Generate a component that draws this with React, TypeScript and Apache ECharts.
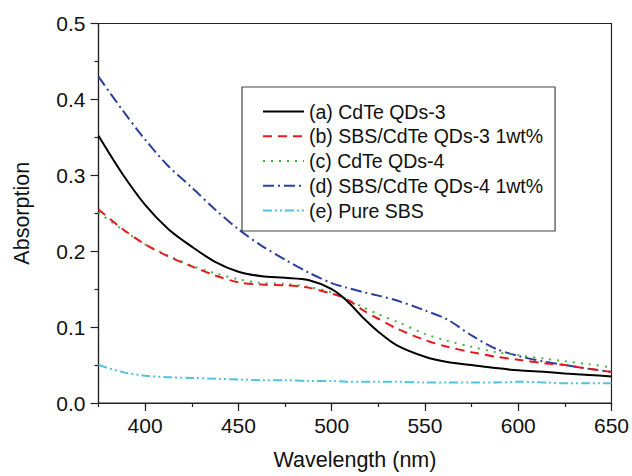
import React, { useEffect, useRef } from "react";
import * as echarts from "echarts";

const wavelengths = [375, 387.5, 400, 412.5, 425, 437.5, 450, 462.5, 475, 487.5, 500, 508, 517, 525, 535, 550, 562, 575, 588, 600, 615, 625, 638, 650];

const seriesA = [0.352, 0.303, 0.261, 0.229, 0.206, 0.186, 0.173, 0.167, 0.165, 0.162, 0.150, 0.135, 0.112, 0.094, 0.076, 0.061, 0.054, 0.050, 0.046, 0.043, 0.041, 0.039, 0.037, 0.035];
const seriesB = [0.255, 0.230, 0.209, 0.193, 0.180, 0.168, 0.159, 0.156, 0.155, 0.152, 0.144, 0.137, 0.122, 0.111, 0.098, 0.083, 0.074, 0.067, 0.061, 0.057, 0.052, 0.050, 0.045, 0.041];
const seriesC = [0.251, 0.229, 0.209, 0.194, 0.181, 0.171, 0.163, 0.158, 0.157, 0.153, 0.146, 0.137, 0.126, 0.117, 0.107, 0.091, 0.082, 0.074, 0.067, 0.063, 0.058, 0.055, 0.051, 0.047];
const seriesD = [0.430, 0.387, 0.347, 0.312, 0.284, 0.255, 0.229, 0.207, 0.189, 0.172, 0.158, 0.152, 0.146, 0.1415, 0.135, 0.122, 0.110, 0.089, 0.0715, 0.062, 0.054, 0.050, 0.045, 0.041];
const seriesE = [0.050, 0.041, 0.036, 0.034, 0.033, 0.032, 0.031, 0.030, 0.030, 0.029, 0.029, 0.028, 0.028, 0.028, 0.028, 0.027, 0.027, 0.027, 0.027, 0.028, 0.027, 0.026, 0.026, 0.026];

const seriesNames = [
  "(a) CdTe QDs-3",
  "(b) SBS/CdTe QDs-3 1wt%",
  "(c) CdTe QDs-4",
  "(d) SBS/CdTe QDs-4 1wt%",
  "(e) Pure SBS",
];

const xLabelTicks = [400, 450, 500, 550, 600, 650];

const FONT = "'Liberation Sans', Arial, Helvetica, sans-serif";

export default function App() {
  const ref = useRef<HTMLDivElement>(null);

  useEffect(() => {
    if (!ref.current) return;
    const chart = echarts.init(ref.current, null, { renderer: "svg" });
    const pair = (ys: number[]) => wavelengths.map((x, i) => [x, ys[i]]);
    const axisColor = "#222";

    const styles = [
      { color: "#000000", type: "solid" as any },
      { color: "#e8191e", type: [9, 6] as any },
      { color: "#44b23c", type: [2, 6] as any },
      { color: "#2c3f9c", type: [11, 4, 2, 4] as any },
      { color: "#4fc4df", type: [9, 3, 2, 3, 2, 3] as any },
    ];
    const datas = [seriesA, seriesB, seriesC, seriesD, seriesE];

    chart.setOption({
      animation: false,
      backgroundColor: "#ffffff",
      textStyle: { fontFamily: FONT },
      grid: {
        left: 98.5,
        right: 19.5,
        top: 23.5,
        bottom: 71.5,
        show: true,
        borderColor: axisColor,
        borderWidth: 1.2,
      },
      legend: {
        show: true,
        orient: "vertical",
        left: 242,
        top: 87,
        padding: [14.5, 12, 10.5, 20],
        itemWidth: 41,
        itemHeight: 14,
        itemGap: 4.75,
        borderColor: "#444",
        borderWidth: 1.2,
        backgroundColor: "#fff",
        itemStyle: { opacity: 0 },
        textStyle: { fontSize: 19.5, lineHeight: 19, color: "#111", fontFamily: FONT },
        data: seriesNames.map((n) => ({ name: n })),
      },
      xAxis: [
        {
          type: "value",
          min: 375,
          max: 650,
          interval: 25,
          name: "Wavelength (nm)",
          nameLocation: "middle",
          nameGap: 46,
          nameTextStyle: { fontSize: 21.5, color: "#111", fontFamily: FONT },
          axisLine: { show: true, lineStyle: { color: axisColor, width: 1.2 } },
          axisTick: { show: true, length: 4, lineStyle: { color: axisColor, width: 1.2 } },
          axisLabel: {
            fontSize: 21,
            color: "#111",
            margin: 12,
            fontFamily: FONT,
            formatter: (v: number) => (v % 50 === 0 ? String(v) : ""),
          },
          splitLine: { show: false },
        },
        {
          type: "value",
          min: 375,
          max: 650,
          position: "bottom",
          axisLine: { show: false },
          axisLabel: { show: false },
          axisTick: {
            show: true,
            length: 8,
            customValues: xLabelTicks,
            lineStyle: { color: axisColor, width: 1.2 },
          },
          splitLine: { show: false },
        },
      ],
      yAxis: {
        type: "value",
        min: 0,
        max: 0.5,
        interval: 0.1,
        name: "Absorption",
        nameLocation: "middle",
        nameGap: 66,
        nameTextStyle: { fontSize: 21.5, color: "#111", fontFamily: FONT },
        axisLine: { show: true, lineStyle: { color: axisColor, width: 1.2 } },
        axisTick: { show: true, length: 8, lineStyle: { color: axisColor, width: 1.2 } },
        minorTick: { show: true, splitNumber: 2, length: 4, lineStyle: { color: axisColor, width: 1.2 } },
        minorSplitLine: { show: false },
        axisLabel: {
          fontSize: 21,
          color: "#111",
          margin: 13,
          fontFamily: FONT,
          formatter: (v: number) => v.toFixed(1),
        },
        splitLine: { show: false },
      },
      series: datas.map((d, i) => ({
        name: seriesNames[i],
        type: "line",
        xAxisIndex: 0,
        data: pair(d),
        smooth: 0.3,
        showSymbol: false,
        symbol: "none",
        lineStyle: { color: styles[i].color, width: 2, type: styles[i].type },
        itemStyle: { color: styles[i].color },
        z: 10 - i,
      })),
    });

    return () => chart.dispose();
  }, []);

  return (
    <div
      ref={ref}
      style={{ position: "fixed", left: 0, top: 0, width: 632, height: 476 }}
    />
  );
}
